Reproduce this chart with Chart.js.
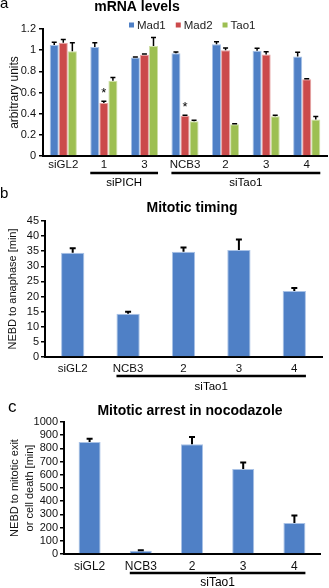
<!DOCTYPE html>
<html>
<head>
<meta charset="utf-8">
<script src="https://cdn.jsdelivr.net/npm/chart.js@4"></script>
<style>
  body { margin: 0; background: #fff; }
  canvas { position: absolute; left: 0; }
</style>
</head>
<body>
<canvas id="chartA" width="329" height="192" style="top:0px"></canvas>
<canvas id="chartB" width="329" height="210" style="top:180px"></canvas>
<canvas id="chartC" width="329" height="200" style="top:388px"></canvas>
<script>
// panel a - mRNA levels
const labelsA = ['siGL2', '1', '3', 'NCB3', '2', '3', '4'];
const mad1 = [1.05, 1.03, 0.93, 0.97, 1.055, 0.995, 0.94];
const mad1Err = [0.025, 0.04, 0.006, 0.013, 0.025, 0.022, 0.04];
const mad2 = [1.07, 0.50, 0.957, 0.38, 1.0, 0.96, 0.726];
const mad2Err = [0.03, 0.018, 0.006, 0.004, 0.02, 0.025, 0.003];
const tao1 = [0.99, 0.71, 1.04, 0.328, 0.30, 0.376, 0.344];
const tao1Err = [0.08, 0.032, 0.08, 0.01, 0.004, 0.01, 0.03];

// panel b - mitotic timing
const labelsB = ['siGL2', 'NCB3', '2', '3', '4'];
const timing = [34.5, 14.3, 34.8, 35.4, 21.8];
const timingErr = [1.5, 0.7, 1.4, 3.5, 1.0];

// panel c - nocodazole arrest
const labelsC = ['siGL2', 'NCB3', '2', '3', '4'];
const arrest = [849, 25, 832, 643, 234];
const arrestErr = [25, 3, 55, 50, 57];

Chart.defaults.font.family = "'Liberation Sans', Arial, sans-serif";
Chart.defaults.color = '#111';

const FONT = "'Liberation Sans', Arial, sans-serif";

// error bars, asterisks, titles, legend and the siRNA brackets under the axis
const panelDecor = {
  id: 'panelDecor',
  afterDatasetsDraw(chart, args, opts) {
    const ctx = chart.ctx;
    const y = chart.scales.y;
    ctx.save();
    ctx.strokeStyle = '#000';
    ctx.fillStyle = '#000';
    ctx.lineWidth = opts.errWidth;
    (opts.errors || []).forEach((errs, i) => {
      const vals = chart.data.datasets[i].data;
      chart.getDatasetMeta(i).data.forEach((bar, j) => {
        const top = y.getPixelForValue(vals[j] + errs[j]);
        ctx.beginPath();
        ctx.moveTo(bar.x, bar.y);
        ctx.lineTo(bar.x, top);
        ctx.moveTo(bar.x - opts.cap, top);
        ctx.lineTo(bar.x + opts.cap, top);
        ctx.stroke();
      });
    });
    ctx.font = '13px ' + FONT;
    ctx.textAlign = 'center';
    ctx.textBaseline = 'alphabetic';
    (opts.stars || []).forEach(([i, j]) => {
      const bar = chart.getDatasetMeta(i).data[j];
      const v = chart.data.datasets[i].data[j] + opts.errors[i][j];
      ctx.fillText('*', bar.x, y.getPixelForValue(v) - 4);
    });
    ctx.restore();
  },
  afterDraw(chart, args, opts) {
    const ctx = chart.ctx;
    const x = chart.scales.x;
    const area = chart.chartArea;
    ctx.save();
    ctx.fillStyle = '#000';
    // panel letter
    ctx.font = opts.letter.size + 'px ' + FONT;
    ctx.textAlign = 'left';
    ctx.textBaseline = 'alphabetic';
    ctx.fillText(opts.letter.text, opts.letter.x, opts.letter.y);
    // title
    ctx.font = 'bold 14px ' + FONT;
    ctx.textAlign = 'center';
    ctx.textBaseline = 'middle';
    ctx.fillText(opts.title.text, opts.title.x, opts.title.y);
    // legend
    if (opts.legend) {
      ctx.font = '11.5px ' + FONT;
      ctx.textAlign = 'left';
      let lx = opts.legend.x;
      chart.data.datasets.forEach(ds => {
        ctx.fillStyle = ds.backgroundColor;
        ctx.fillRect(lx, opts.legend.y - 2.5, 5, 5);
        ctx.fillStyle = '#222';
        ctx.fillText(ds.label, lx + 8, opts.legend.y + 0.5);
        lx += 8 + ctx.measureText(ds.label).width + opts.legend.gap;
      });
    }
    // brackets
    const catW = x.width / chart.data.labels.length;
    const half = catW * opts.groupFrac / 2;
    ctx.fillStyle = '#000';
    ctx.strokeStyle = '#000';
    ctx.lineWidth = 2.5;
    ctx.font = opts.bracketFont + 'px ' + FONT;
    ctx.textAlign = 'center';
    ctx.textBaseline = 'middle';
    (opts.brackets || []).forEach(b => {
      const x0 = x.getPixelForValue(b.from) - half;
      const x1 = x.getPixelForValue(b.to) + half;
      const by = area.bottom + opts.bracketY;
      ctx.beginPath();
      ctx.moveTo(x0, by);
      ctx.lineTo(x1, by);
      ctx.stroke();
      ctx.fillText(b.label, (x0 + x1) / 2, area.bottom + opts.labelY);
    });
    ctx.restore();
  }
};

function makeScales(f) {
  return {
    x: {
      z: 1,
      grid: { display: false, drawTicks: false },
      border: { color: '#000', width: 2 },
      ticks: { font: { size: f.xFont }, color: '#111', padding: f.xPad, maxRotation: 0, autoSkip: false },
      afterFit: s => { s.height = f.xHeight; }
    },
    y: {
      z: 1,
      min: 0,
      max: f.max,
      grid: { drawOnChartArea: false, drawTicks: true, tickLength: 4, color: '#000', lineWidth: 1.5 },
      border: { color: '#000', width: 2 },
      ticks: {
        stepSize: f.step, autoSkip: false, font: { size: f.yFont }, color: '#111', padding: f.yPad,
        callback: v => String(Math.round(v * 10) / 10)
      },
      title: {
        display: true,
        text: f.title,
        font: { size: f.titleFont, lineHeight: 1.35 },
        color: '#111',
        padding: { top: f.titlePad, bottom: 0 }
      },
      afterFit: s => { s.width = f.yWidth; }
    }
  };
}

const common = {
  responsive: false,
  animation: false,
  events: [],
  plugins: { legend: { display: false }, tooltip: { enabled: false } }
};

new Chart(document.getElementById('chartA'), {
  type: 'bar',
  data: {
    labels: labelsA,
    datasets: [
      { label: 'Mad1', data: mad1, backgroundColor: '#4f80c6', borderColor: '#a9c2e6', borderWidth: 1 },
      { label: 'Mad2', data: mad2, backgroundColor: '#cb4a4b', borderColor: '#e6a5a5', borderWidth: 1 },
      { label: 'Tao1', data: tao1, backgroundColor: '#9dbf52', borderColor: '#cfe0a8', borderWidth: 1 }
    ]
  },
  options: Object.assign({}, common, {
    categoryPercentage: 0.67,
    barPercentage: 1.0,
    layout: { padding: { top: 29, right: 2, left: 0, bottom: 0 } },
    scales: makeScales({ max: 1.2, step: 0.2, yFont: 11, yPad: 3, yWidth: 43,
      xFont: 11.5, xPad: 1.5, xHeight: 36, title: 'arbitrary units', titleFont: 12, titlePad: 7 }),
    plugins: Object.assign({}, common.plugins, {
      panelDecor: {
        errors: [mad1Err, mad2Err, tao1Err],
        errWidth: 1.5, cap: 2.5,
        stars: [[1, 1], [1, 3]],
        letter: { text: 'a', x: 0, y: 8, size: 15 },
        title: { text: 'mRNA levels', x: 137, y: 7 },
        legend: { x: 129, y: 25, gap: 10 },
        groupFrac: 0.67,
        brackets: [{ from: 1, to: 2, label: 'siPICH' }, { from: 3, to: 6, label: 'siTao1' }],
        bracketFont: 11.5, bracketY: 17, labelY: 27
      }
    })
  }),
  plugins: [panelDecor]
});

new Chart(document.getElementById('chartB'), {
  type: 'bar',
  data: {
    labels: labelsB,
    datasets: [{ label: 'timing', data: timing, backgroundColor: '#4f80c6', borderColor: '#a9c2e6', borderWidth: 1 }]
  },
  options: Object.assign({}, common, {
    categoryPercentage: 0.42,
    barPercentage: 1.0,
    layout: { padding: { top: 41, right: 7, left: 0, bottom: 0 } },
    scales: makeScales({ max: 45, step: 5, yFont: 11, yPad: 2, yWidth: 45,
      xFont: 11.5, xPad: 4.5, xHeight: 33, title: 'NEBD to anaphase [min]', titleFont: 11, titlePad: 6 }),
    plugins: Object.assign({}, common.plugins, {
      panelDecor: {
        errors: [timingErr],
        errWidth: 2, cap: 3,
        letter: { text: 'b', x: 0, y: 18, size: 15 },
        title: { text: 'Mitotic timing', x: 192, y: 28 },
        groupFrac: 0.42,
        brackets: [{ from: 1, to: 4, label: 'siTao1' }],
        bracketFont: 11.5, bracketY: 19, labelY: 30
      }
    })
  }),
  plugins: [panelDecor]
});

new Chart(document.getElementById('chartC'), {
  type: 'bar',
  data: {
    labels: labelsC,
    datasets: [{ label: 'arrest', data: arrest, backgroundColor: '#4f80c6', borderColor: '#a9c2e6', borderWidth: 1 }]
  },
  options: Object.assign({}, common, {
    categoryPercentage: 0.43,
    barPercentage: 1.0,
    layout: { padding: { top: 34, right: 9, left: 0, bottom: 0 } },
    scales: makeScales({ max: 1000, step: 100, yFont: 11, yPad: 2, yWidth: 64,
      xFont: 12, xPad: 5, xHeight: 34, title: ['NEBD to mitotic exit', 'or cell death [min]'], titleFont: 11, titlePad: 8 }),
    plugins: Object.assign({}, common.plugins, {
      panelDecor: {
        errors: [arrestErr],
        errWidth: 2, cap: 3,
        letter: { text: 'c', x: 8, y: 24, size: 17 },
        title: { text: 'Mitotic arrest in nocodazole', x: 190, y: 23 },
        groupFrac: 0.43,
        brackets: [{ from: 1, to: 4, label: 'siTao1' }],
        bracketFont: 12, bracketY: 19, labelY: 29
      }
    })
  }),
  plugins: [panelDecor]
});
</script>
</body>
</html>
